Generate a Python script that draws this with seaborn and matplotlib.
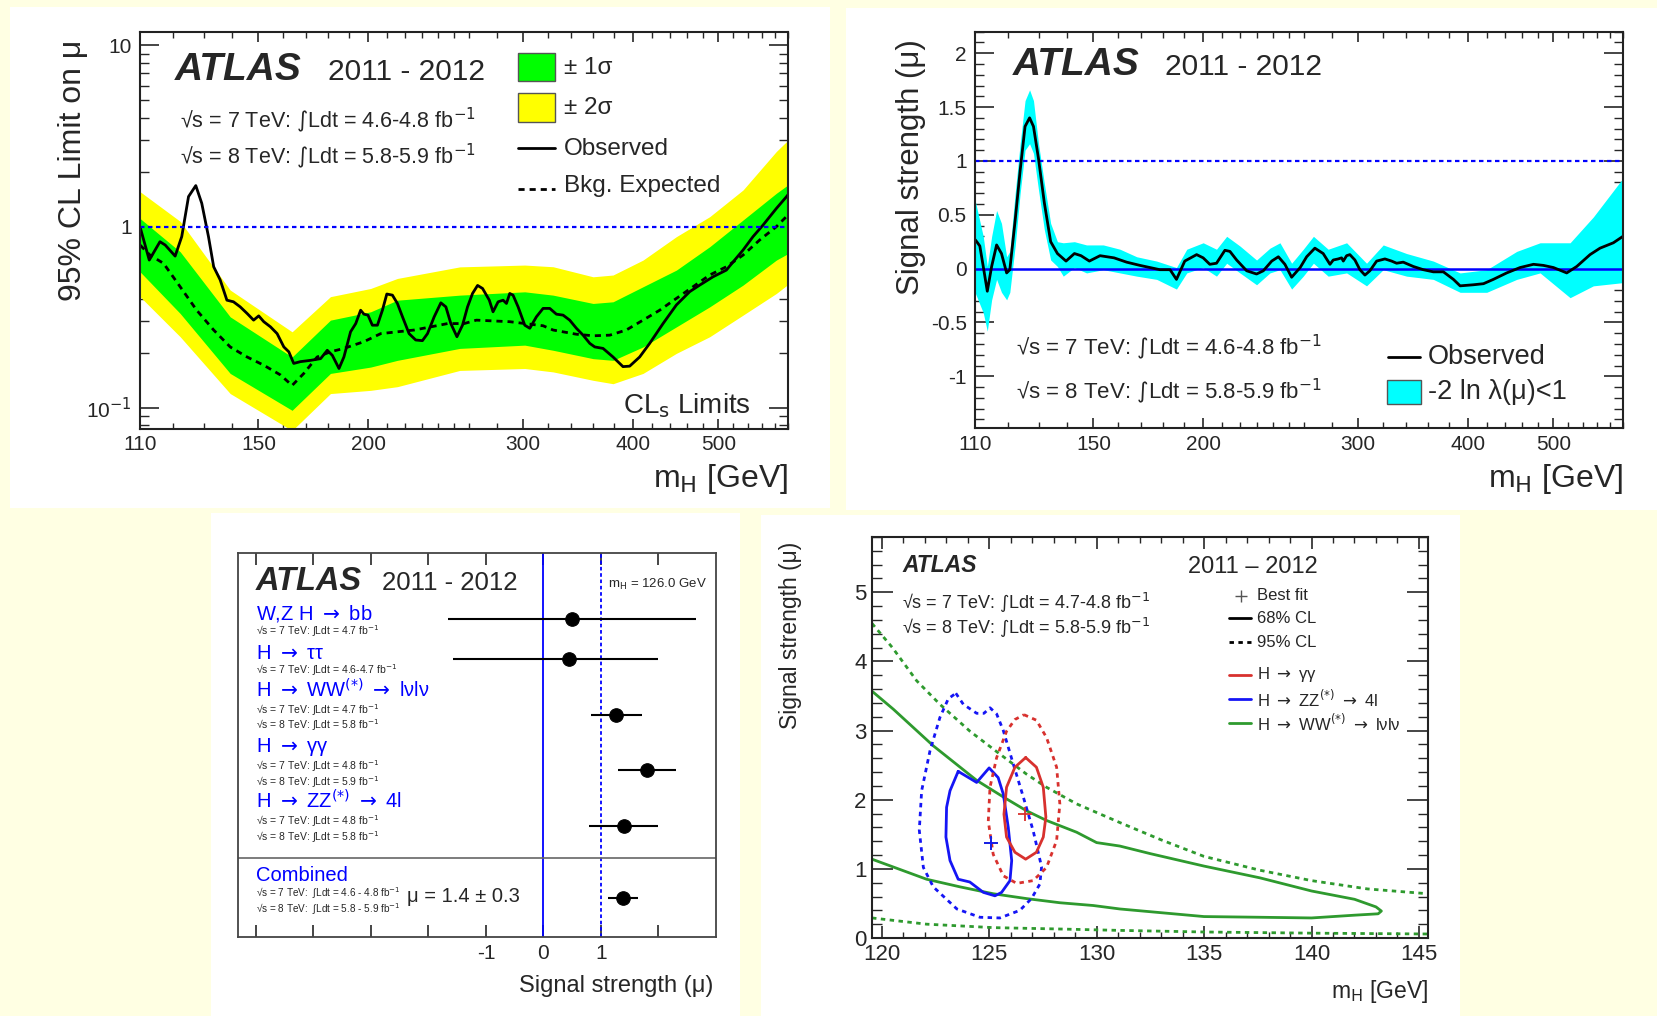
import numpy as np
import matplotlib
matplotlib.use("Agg")
import matplotlib.pyplot as plt
import seaborn as sns
from matplotlib.patches import Rectangle
from matplotlib.lines import Line2D
from matplotlib.ticker import FixedLocator, FixedFormatter, MultipleLocator, NullFormatter

sns.set_style("ticks")
plt.rcParams["font.family"] = ["Liberation Sans", "DejaVu Sans"]
plt.rcParams["mathtext.fontset"] = "custom"
plt.rcParams["mathtext.rm"] = "DejaVu Sans"
plt.rcParams["mathtext.it"] = "DejaVu Sans:italic"
plt.rcParams["mathtext.bf"] = "DejaVu Sans:bold"

ARROW = "$\\rightarrow$"
INT = "$\\int$"

## ---------- top left: CLs limit on mu ----------
obs_mass = [110.0, 112.7, 115.9, 117.5, 120.6, 122.7, 124.9, 127.3, 129.3, 131.6, 133.4, 135.7,
            138.1, 140.5, 143.0, 145.6, 148.1, 150.1, 152.1, 154.8, 157.5, 160.3, 162.4, 164.5,
            167.4, 171.9, 176.5, 179.6, 182.0, 185.2, 187.6, 190.9, 193.5, 196.0, 197.7, 199.8,
            202.1, 204.8, 207.5, 209.9, 213.0, 215.8, 218.7, 222.5, 226.4, 230.4, 233.5, 237.6,
            241.8, 245.0, 248.2, 252.2, 255.9, 259.3, 262.7, 266.2, 269.7, 274.5, 277.2, 280.9,
            284.6, 287.1, 289.6, 292.1, 296.0, 301.2, 305.2, 310.5, 316.0, 321.6, 327.2, 333.0,
            338.8, 344.8, 350.9, 357.1, 361.8, 369.7, 379.5, 389.5, 396.4, 406.9, 417.7, 432.6,
            448.0, 463.9, 476.2, 493.1, 510.6, 521.9, 533.4, 547.5, 562.0, 582.0, 597.4, 600.0]
obs_limit = [1.00, 0.654, 0.826, 0.792, 0.688, 0.881, 1.465, 1.685, 1.346, 0.881, 0.601, 0.508,
             0.393, 0.385, 0.361, 0.332, 0.305, 0.322, 0.299, 0.280, 0.257, 0.217, 0.204, 0.176,
             0.180, 0.183, 0.187, 0.208, 0.195, 0.165, 0.191, 0.263, 0.292, 0.346, 0.329, 0.325,
             0.286, 0.286, 0.346, 0.425, 0.419, 0.377, 0.318, 0.257, 0.237, 0.235, 0.257, 0.318,
             0.380, 0.361, 0.292, 0.247, 0.286, 0.361, 0.428, 0.474, 0.456, 0.393, 0.339, 0.385,
             0.393, 0.377, 0.428, 0.419, 0.361, 0.286, 0.275, 0.318, 0.354, 0.354, 0.329, 0.325,
             0.305, 0.275, 0.252, 0.227, 0.217, 0.213, 0.191, 0.169, 0.170, 0.191, 0.227, 0.292,
             0.370, 0.438, 0.476, 0.529, 0.576, 0.655, 0.743, 0.881, 1.02, 1.26, 1.46, 1.50]

exp_mass = [110.0, 112.9, 117.0, 122.2, 127.6, 133.4, 139.3, 145.6, 152.1, 158.9, 163.8, 168.9,
            174.9, 181.1, 187.6, 197.7, 206.6, 215.8, 225.5, 235.5, 246.1, 257.0, 265.4, 289.6,
            316.0, 324.4, 344.8, 360.2, 376.3, 392.9, 410.5, 428.8, 448.0, 467.9, 488.8, 510.6,
            533.4, 557.1, 582.0, 600.0]
exp_limit = [0.792, 0.697, 0.627, 0.466, 0.346, 0.269, 0.217, 0.191, 0.172, 0.152, 0.133, 0.155,
             0.191, 0.204, 0.213, 0.232, 0.257, 0.263, 0.269, 0.280, 0.292, 0.292, 0.305, 0.299,
             0.284, 0.269, 0.255, 0.250, 0.252, 0.269, 0.305, 0.346, 0.402, 0.466, 0.541, 0.601,
             0.697, 0.844, 1.0, 1.16]

band_mass = [110.0, 122.2, 139.3, 163.8, 181.1, 201.2, 215.8, 254.1, 301.2, 324.4, 360.2, 379.5,
             410.5, 448.0, 488.8, 533.4, 582.0, 600.0]
band_p2s = [1.56, 1.07, 0.447, 0.263, 0.411, 0.456, 0.518, 0.600, 0.614, 0.601, 0.529, 0.541,
            0.654, 0.881, 1.135, 1.594, 2.60, 3.0]
band_p1s = [1.11, 0.727, 0.318, 0.191, 0.305, 0.339, 0.393, 0.419, 0.437, 0.419, 0.377, 0.385,
            0.466, 0.576, 0.775, 1.088, 1.528, 1.70]
band_m1s = [0.564, 0.332, 0.155, 0.097, 0.155, 0.168, 0.183, 0.213, 0.222, 0.208, 0.187, 0.183,
            0.217, 0.280, 0.361, 0.476, 0.654, 0.71]
band_m2s = [0.411, 0.247, 0.120, 0.075, 0.120, 0.125, 0.131, 0.161, 0.165, 0.158, 0.142, 0.136,
            0.155, 0.200, 0.247, 0.325, 0.428, 0.48]

## ---------- top right: best-fit signal strength ----------
mu_mass = [110.0, 110.5, 111.4, 112.4, 113.6, 114.9, 116.4, 117.9, 119.5, 120.5, 122.2, 123.8,
           125.4, 126.9, 128.2, 129.9, 131.9, 134.1, 136.5, 139.6, 142.7, 145.2, 148.4, 152.6,
           158.3, 163.6, 169.4, 178.5, 183.3, 186.4, 190.5, 196.5, 199.9, 203.4, 207.0, 211.6,
           214.4, 218.2, 224.0, 229.9, 234.0, 239.2, 243.4, 247.6, 252.0, 257.7, 262.1, 267.8,
           273.7, 278.6, 281.0, 284.7, 287.2, 288.5, 291.0, 293.5, 297.4, 301.3, 305.3, 309.3,
           314.8, 321.7, 327.4, 331.7, 337.5, 346.5, 355.7, 365.2, 374.9, 384.9, 391.7, 405.6,
           416.4, 427.3, 442.5, 458.3, 474.6, 487.1, 500.1, 517.8, 531.6, 550.4, 565.0, 585.1,
           600.0]
mu_obs = [0.27, 0.25, 0.21, 0.02, -0.21, 0.02, 0.22, 0.14, -0.04, -0.01, 0.45, 0.91,
          1.32, 1.40, 1.32, 1.02, 0.61, 0.25, 0.14, 0.07, 0.14, 0.12, 0.07, 0.12,
          0.10, 0.06, 0.03, -0.01, -0.01, -0.10, 0.07, 0.13, 0.10, 0.04, 0.05, 0.17,
          0.16, 0.08, -0.02, -0.05, -0.02, 0.07, 0.11, 0.04, -0.08, 0.01, 0.11, 0.19,
          0.14, 0.04, 0.08, 0.09, 0.10, 0.07, 0.12, 0.13, 0.08, -0.01, -0.06, -0.02,
          0.07, 0.09, 0.07, 0.05, 0.06, 0.02, -0.01, -0.03, -0.03, -0.10, -0.16, -0.15,
          -0.14, -0.10, -0.04, 0.01, 0.04, 0.03, 0.01, -0.04, 0.02, 0.13, 0.19, 0.24,
          0.30]
mu_band_mass = [110.0, 112.4, 113.6, 114.9, 116.4, 117.9, 119.5, 120.5, 122.2, 123.8, 125.4, 126.9,
                128.2, 129.9, 131.9, 134.1, 136.5, 138.6, 142.7, 147.3, 153.9, 160.8, 168.0, 177.0,
                186.4, 191.5, 199.9, 207.0, 212.6, 220.1, 229.9, 238.1, 244.4, 252.0, 259.8, 266.8,
                277.3, 291.0, 306.6, 320.3, 340.5, 365.2, 391.7, 420.0, 454.3, 482.9, 522.4, 555.2,
                600.0]
mu_band_lo = [-0.22, -0.41, -0.58, -0.29, -0.10, -0.22, -0.29, -0.22, 0.21, 0.70, 1.10, 1.16,
              1.07, 0.73, 0.36, 0.08, 0.02, -0.07, 0.01, -0.04, -0.01, -0.04, -0.07, -0.10,
              -0.19, -0.04, 0.01, -0.07, 0.05, -0.04, -0.15, -0.04, -0.01, -0.19, -0.07, 0.05,
              -0.07, -0.04, -0.16, -0.01, -0.07, -0.10, -0.22, -0.22, -0.10, -0.04, -0.27, -0.16,
              -0.13]
mu_band_hi = [0.64, 0.30, 0.02, 0.30, 0.54, 0.42, 0.11, 0.16, 0.70, 1.16, 1.56, 1.66,
              1.56, 1.16, 0.79, 0.42, 0.25, 0.24, 0.25, 0.22, 0.22, 0.18, 0.11, 0.07,
              0.01, 0.18, 0.24, 0.18, 0.30, 0.21, 0.08, 0.19, 0.24, 0.05, 0.18, 0.30,
              0.18, 0.24, 0.05, 0.22, 0.14, 0.07, -0.04, -0.01, 0.16, 0.24, 0.24, 0.48,
              0.84]

## ---------- bottom left: per-channel signal strength at 126 GeV ----------
channels = ["W,Z H " + ARROW + " bb", "H " + ARROW + " ττ",
            "H " + ARROW + " WW$^{(*)}$ " + ARROW + " lνlν", "H " + ARROW + " γγ",
            "H " + ARROW + " ZZ$^{(*)}$ " + ARROW + " 4l"]
channel_lumi = [["√s = 7 TeV: ∫Ldt = 4.7 fb$^{-1}$"],
                ["√s = 7 TeV: ∫Ldt = 4.6-4.7 fb$^{-1}$"],
                ["√s = 7 TeV: ∫Ldt = 4.7 fb$^{-1}$", "√s = 8 TeV: ∫Ldt = 5.8 fb$^{-1}$"],
                ["√s = 7 TeV: ∫Ldt = 4.8 fb$^{-1}$", "√s = 8 TeV: ∫Ldt = 5.9 fb$^{-1}$"],
                ["√s = 7 TeV: ∫Ldt = 4.8 fb$^{-1}$", "√s = 8 TeV: ∫Ldt = 5.8 fb$^{-1}$"]]
chan_mu = [0.49, 0.44, 1.26, 1.80, 1.40]
chan_lo = [-1.66, -1.57, 0.82, 1.30, 0.80]
chan_hi = [2.65, 1.99, 1.72, 2.30, 2.00]
comb_mu, comb_lo, comb_hi = 1.38, 1.12, 1.65
comb_lumi = ["√s = 7 TeV:  ∫Ldt = 4.6 - 4.8 fb$^{-1}$",
             "√s = 8 TeV:  ∫Ldt = 5.8 - 5.9 fb$^{-1}$"]

## ---------- bottom right: mu vs mH likelihood contours ----------
ww68_m = [119.55, 120.54, 122.4, 124.42, 125.66, 126.74, 127.67, 129.07, 130.0, 131.08, 132.5, 135.0,
          137.6, 140.0, 142.0, 143.0, 143.25, 143.1, 142.0, 140.0, 137.6, 135.0, 132.5, 131.08,
          129.84, 128.29, 126.74, 125.19, 123.64, 122.09, 119.55]
ww68_mu = [3.57, 3.31, 2.78, 2.28, 2.04, 1.84, 1.70, 1.53, 1.38, 1.33, 1.22, 1.04,
           0.87, 0.68, 0.56, 0.45, 0.39, 0.35, 0.33, 0.29, 0.30, 0.31, 0.38, 0.42,
           0.47, 0.51, 0.57, 0.64, 0.74, 0.85, 1.14]
ww95_up_m = [119.55, 120.5, 121.63, 122.71, 124.11, 125.5, 126.74, 127.67, 129.07, 131.08, 133.0,
             135.0, 137.6, 140.0, 142.6, 145.42]
ww95_up_mu = [4.55, 4.20, 3.72, 3.38, 2.99, 2.66, 2.37, 2.18, 1.94, 1.67, 1.42,
              1.18, 0.98, 0.83, 0.71, 0.64]
ww95_lo_m = [119.55, 122.09, 125.19, 128.29, 131.08, 135.0, 140.0, 145.42]
ww95_lo_mu = [0.29, 0.20, 0.15, 0.13, 0.11, 0.087, 0.07, 0.058]

zz68_m = [123.56, 124.42, 125.0, 125.42, 125.66, 125.89, 126.05, 125.97, 125.58, 125.27, 124.73,
          124.1, 123.56, 123.18, 122.99, 123.02, 123.18, 123.56]
zz68_mu = [2.41, 2.25, 2.46, 2.32, 2.08, 1.60, 1.12, 0.83, 0.66, 0.61, 0.66,
           0.81, 0.85, 1.12, 1.46, 1.89, 2.13, 2.41]
zz95_m = [123.45, 123.8, 124.42, 124.76, 125.04, 125.35, 125.66, 126.12, 126.59, 127.05, 127.44,
          127.36, 126.97, 126.43, 125.5, 124.57, 123.5, 122.4, 121.94, 121.75, 121.86, 122.25,
          122.71, 123.1, 123.45]
zz95_mu = [3.54, 3.38, 3.25, 3.25, 3.33, 3.24, 3.00, 2.52, 2.04, 1.55, 1.03,
           0.78, 0.57, 0.40, 0.29, 0.30, 0.42, 0.74, 1.02, 1.56, 2.13, 2.71,
           3.19, 3.46, 3.54]

gg68_m = [126.7, 127.2, 127.52, 127.64, 127.52, 127.2, 126.7, 126.2, 125.81, 125.69, 125.81, 126.2, 126.7]
gg68_mu = [2.61, 2.47, 2.18, 1.75, 1.46, 1.24, 1.14, 1.24, 1.46, 1.79, 2.18, 2.47, 2.61]
gg95_m = [126.62, 127.2, 127.67, 128.14, 128.29, 128.14, 127.67, 127.05, 126.28, 125.66, 125.19,
          124.96, 125.04, 125.35, 125.81, 126.2, 126.62]
gg95_mu = [3.23, 3.15, 2.90, 2.47, 1.94, 1.41, 1.02, 0.83, 0.79, 0.90, 1.21,
           1.69, 2.18, 2.61, 2.99, 3.16, 3.23]

best_fit_m = {"gg": 126.67, "zz": 125.08, "ww": 125.1}
best_fit_mu = {"gg": 1.80, "zz": 1.37, "ww": 1.37}

## ---------- figure ----------
W, H = 1658, 1016
fig = plt.figure(figsize=(W / 100, H / 100), dpi=100, facecolor="#FFFFE3")


def panel(x0, y0, x1, y1):
    fig.patches.append(Rectangle((x0 / W, 1 - y1 / H), (x1 - x0) / W, (y1 - y0) / H,
                                 transform=fig.transFigure, facecolor="white",
                                 edgecolor="none", zorder=-10))


def axes_px(x0, y0, x1, y1):
    return fig.add_axes([x0 / W, 1 - y1 / H, (x1 - x0) / W, (y1 - y0) / H])


def root_ticks(ax, xl=(7, 4), yl=(13.5, 6.5), size=15, xpad=5, ypad=6):
    ax.tick_params(axis="x", which="major", direction="in", top=True, bottom=True,
                   length=xl[0], width=1.2, labelsize=size, pad=xpad)
    ax.tick_params(axis="x", which="minor", direction="in", top=True, bottom=True,
                   length=xl[1], width=1.0)
    ax.tick_params(axis="y", which="major", direction="in", left=True, right=True,
                   length=yl[0], width=1.2, labelsize=size, pad=ypad)
    ax.tick_params(axis="y", which="minor", direction="in", left=True, right=True,
                   length=yl[1], width=1.0)
    for s in ax.spines.values():
        s.set_linewidth(1.5)
        s.set_color("#222222")
        s.set_visible(True)


def mass_axis(ax):
    ax.set_xscale("log")
    ax.set_xlim(110, 600)
    ax.xaxis.set_major_locator(FixedLocator([110, 150, 200, 300, 400, 500]))
    ax.xaxis.set_major_formatter(FixedFormatter(["110", "150", "200", "300", "400", "500"]))
    ax.xaxis.set_minor_locator(FixedLocator([120, 130, 140, 160, 170, 180, 190, 210, 220, 230, 240,
                                             250, 260, 280, 320, 340, 360, 380, 420, 440, 460,
                                             480, 520, 540, 560, 580, 600]))
    ax.xaxis.set_minor_formatter(NullFormatter())


panel(10, 7, 830, 508)
panel(846, 8, 1658, 510)
panel(211, 513, 740, 1016)
panel(761, 515, 1460, 1016)

# ---- top left ----
ax = axes_px(140, 31.7, 788, 428.5)
ax.set_yscale("log")
mass_axis(ax)
ax.set_ylim(0.077, 11.9)
ax.fill_between(band_mass, band_m2s, band_p2s, color="#FFFF00", lw=0)
ax.fill_between(band_mass, band_m1s, band_p1s, color="#00FF00", lw=0)
sns.lineplot(x=exp_mass, y=exp_limit, ax=ax, color="black", lw=2, linestyle=(0, (2.2, 1.8)))
sns.lineplot(x=obs_mass, y=obs_limit, ax=ax, color="black", lw=2)
ax.axhline(1, color="#0000FF", lw=1.6, ls=(0, (2, 1.6)))
ax.yaxis.set_major_locator(FixedLocator([0.1, 1, 10]))
ax.yaxis.set_major_formatter(FixedFormatter(["10$^{-1}$", "1", "10"]))
ax.yaxis.set_minor_locator(FixedLocator([0.08, 0.09, 0.2, 0.3, 0.4, 0.5, 0.6, 0.7, 0.8, 0.9,
                                         2, 3, 4, 5, 6, 7, 8, 9]))
ax.yaxis.set_minor_formatter(NullFormatter())
root_ticks(ax)
ax.set_xlabel("")
ax.set_ylabel("")
ax.text(-0.104, 0.979, "95% CL Limit on μ", transform=ax.transAxes, rotation=90,
        ha="center", va="top", fontsize=23)
ax.text(1.0, -0.147, "m$_\\mathrm{H}$ [GeV]", transform=ax.transAxes, ha="right",
        va="baseline", fontsize=23)
ax.text(0.054, 0.878, "ATLAS", transform=ax.transAxes, fontsize=28, fontweight="bold",
        fontstyle="italic", va="baseline")
ax.text(0.29, 0.878, "2011 - 2012", transform=ax.transAxes, fontsize=21.5, va="baseline")
ax.text(0.062, 0.758, "√s = 7 TeV: " + INT + "Ldt = 4.6-4.8 fb$^{-1}$", transform=ax.transAxes,
        fontsize=15.5, va="baseline")
ax.text(0.062, 0.667, "√s = 8 TeV: " + INT + "Ldt = 5.8-5.9 fb$^{-1}$", transform=ax.transAxes,
        fontsize=15.5, va="baseline")
ax.add_patch(Rectangle((0.583, 0.876), 0.057, 0.071, transform=ax.transAxes,
                       facecolor="#00FF00", edgecolor="#555555", lw=1))
ax.add_patch(Rectangle((0.583, 0.773), 0.057, 0.072, transform=ax.transAxes,
                       facecolor="#FFFF00", edgecolor="#555555", lw=1))
ax.add_line(Line2D([0.583, 0.640], [0.706, 0.706], transform=ax.transAxes, color="black", lw=2))
ax.add_line(Line2D([0.583, 0.640], [0.604, 0.604], transform=ax.transAxes, color="black", lw=2,
                   ls=(0, (2.2, 1.8))))
for ty, tx in zip([0.908, 0.807, 0.704, 0.612], ["± 1σ", "± 2σ", "Observed", "Bkg. Expected"]):
    ax.text(0.654, ty, tx, transform=ax.transAxes, fontsize=17.5, va="center")
ax.text(0.942, 0.038, "CL$_\\mathrm{s}$ Limits", transform=ax.transAxes, fontsize=20,
        ha="right", va="baseline")

# ---- top right ----
ax = axes_px(975, 31.7, 1623, 428)
mass_axis(ax)
ax.set_ylim(-1.48, 2.2)
ax.fill_between(mu_band_mass, mu_band_lo, mu_band_hi, color="#00FFFF", lw=0)
ax.axhline(0, color="#0000FF", lw=1.8)
ax.axhline(1, color="#0000FF", lw=1.6, ls=(0, (2, 1.6)))
sns.lineplot(x=mu_mass, y=mu_obs, ax=ax, color="black", lw=2)
ax.yaxis.set_major_locator(FixedLocator([-1, -0.5, 0, 0.5, 1, 1.5, 2]))
ax.yaxis.set_major_formatter(FixedFormatter(["-1", "-0.5", "0", "0.5", "1", "1.5", "2"]))
ax.yaxis.set_minor_locator(MultipleLocator(0.1))
root_ticks(ax)
ax.set_xlabel("")
ax.set_ylabel("")
ax.text(-0.098, 0.982, "Signal strength (μ)", transform=ax.transAxes, rotation=90,
        ha="center", va="top", fontsize=22.5)
ax.text(1.0, -0.149, "m$_\\mathrm{H}$ [GeV]", transform=ax.transAxes, ha="right",
        va="baseline", fontsize=23)
ax.text(0.058, 0.891, "ATLAS", transform=ax.transAxes, fontsize=28, fontweight="bold",
        fontstyle="italic", va="baseline")
ax.text(0.293, 0.891, "2011 - 2012", transform=ax.transAxes, fontsize=21.5, va="baseline")
ax.text(0.063, 0.184, "√s = 7 TeV: " + INT + "Ldt = 4.6-4.8 fb$^{-1}$", transform=ax.transAxes,
        fontsize=16, va="baseline")
ax.text(0.063, 0.075, "√s = 8 TeV: " + INT + "Ldt = 5.8-5.9 fb$^{-1}$", transform=ax.transAxes,
        fontsize=16, va="baseline")
ax.add_line(Line2D([0.638, 0.687], [0.180, 0.180], transform=ax.transAxes, color="black", lw=2))
ax.add_patch(Rectangle((0.636, 0.061), 0.052, 0.060, transform=ax.transAxes,
                       facecolor="#00FFFF", edgecolor="#555555", lw=1))
ax.text(0.699, 0.180, "Observed", transform=ax.transAxes, fontsize=19.5, va="center")
ax.text(0.699, 0.092, "-2 ln λ(μ)<1", transform=ax.transAxes, fontsize=19.5, va="center")

# ---- bottom left ----
ax = axes_px(238, 553, 716, 937)
ax.set_xlim(-5.31, 3.0)
ax.set_ylim(0, 11.5)
row_y = [9.52, 8.32, 6.66, 4.99, 3.33]
label_y = [9.50, 8.32, 7.18, 5.55, 3.84]
lumi_y = [[9.05], [7.88], [6.68, 6.22], [4.99, 4.53], [3.35, 2.88]]
ax.axvline(0, color="#0000FF", lw=1.3)
ax.axvline(1, color="#0000FF", lw=1.3, ls=(0, (2, 1.5)))
ax.axhline(2.38, color="#666666", lw=1.2)
ax.hlines(row_y, chan_lo, chan_hi, color="black", lw=1.5)
ax.hlines([1.18], [comb_lo], [comb_hi], color="black", lw=1.5)
sns.scatterplot(x=chan_mu + [comb_mu], y=row_y + [1.18], ax=ax, color="black",
                edgecolor="black", s=95, zorder=5, legend=False)
for name, ly, lums, lys in zip(channels, label_y, channel_lumi, lumi_y):
    ax.text(-5.0, ly, name, color="#0000FF", fontsize=14.5, va="baseline")
    for t, y in zip(lums, lys):
        ax.text(-5.0, y, t, fontsize=7.5, va="baseline")
ax.text(-5.0, 1.67, "Combined", color="#0000FF", fontsize=14.5, va="baseline")
for t, y in zip(comb_lumi, [1.20, 0.73]):
    ax.text(-5.0, y, t, fontsize=7.2, va="baseline")
ax.text(-2.37, 1.05, "μ = 1.4 ± 0.3", fontsize=14.5, va="baseline")
ax.text(-5.0, 10.4, "ATLAS", fontsize=23.5, fontweight="bold", fontstyle="italic", va="baseline")
ax.text(-2.81, 10.4, "2011 - 2012", fontsize=18.5, va="baseline")
ax.text(1.13, 10.45, "m$_\\mathrm{H}$ = 126.0 GeV", fontsize=9.5, va="baseline")
ax.xaxis.set_major_locator(FixedLocator(list(range(-5, 3))))
ax.xaxis.set_major_formatter(FixedFormatter(["", "", "", "", "-1", "0", "1", ""]))
ax.tick_params(axis="x", which="major", direction="in", top=True, bottom=True, length=8.5,
               width=1.2, labelsize=15, pad=5)
ax.tick_params(axis="y", left=False, right=False, labelleft=False)
for s in ax.spines.values():
    s.set_linewidth(1.3)
    s.set_color("#444444")
ax.set_xlabel("")
ax.set_ylabel("")
ax.text(0.995, -0.142, "Signal strength (μ)", transform=ax.transAxes, ha="right",
        va="baseline", fontsize=17)

# ---- bottom right ----
ax = axes_px(872, 537, 1428, 938)
ax.set_xlim(119.55, 145.42)
ax.set_ylim(0, 5.8)
c_red, c_blue, c_green = "#D8312E", "#1515F5", "#2E9A2E"
dots = (0, (1.6, 1.6))
sns.lineplot(x=ww95_up_m, y=ww95_up_mu, ax=ax, sort=False, estimator=None, color=c_green, lw=2, linestyle=dots)
sns.lineplot(x=ww95_lo_m, y=ww95_lo_mu, ax=ax, sort=False, estimator=None, color=c_green, lw=2, linestyle=dots)
sns.lineplot(x=ww68_m, y=ww68_mu, ax=ax, sort=False, estimator=None, color=c_green, lw=2)
sns.lineplot(x=zz95_m, y=zz95_mu, ax=ax, sort=False, estimator=None, color=c_blue, lw=2, linestyle=dots)
sns.lineplot(x=zz68_m, y=zz68_mu, ax=ax, sort=False, estimator=None, color=c_blue, lw=2)
sns.lineplot(x=gg95_m, y=gg95_mu, ax=ax, sort=False, estimator=None, color=c_red, lw=2, linestyle=dots)
sns.lineplot(x=gg68_m, y=gg68_mu, ax=ax, sort=False, estimator=None, color=c_red, lw=2)
for key, col in [("ww", c_green), ("zz", c_blue), ("gg", c_red)]:
    ax.plot(best_fit_m[key], best_fit_mu[key], marker="+", ms=10, mew=1.3, color=col)
ax.xaxis.set_major_locator(MultipleLocator(5))
ax.xaxis.set_minor_locator(MultipleLocator(1))
ax.yaxis.set_major_locator(MultipleLocator(1))
ax.yaxis.set_minor_locator(MultipleLocator(0.2))
root_ticks(ax, xl=(8.5, 4.5), yl=(15, 7.5), size=16, xpad=4, ypad=4)
ax.set_xlabel("")
ax.set_ylabel("")
ax.text(-0.146, 0.989, "Signal strength (μ)", transform=ax.transAxes, rotation=90,
        ha="center", va="top", fontsize=16.5)
ax.text(1.0, -0.15, "m$_\\mathrm{H}$ [GeV]", transform=ax.transAxes, ha="right",
        va="baseline", fontsize=16.5)
ax.text(120.95, 5.29, "ATLAS", fontsize=16.5, fontweight="bold", fontstyle="italic", va="baseline")
ax.text(134.27, 5.28, "2011 – 2012", fontsize=17, va="baseline")
ax.text(120.95, 4.76, "√s = 7 TeV: " + INT + "Ldt = 4.7-4.8 fb$^{-1}$", fontsize=13, va="baseline")
ax.text(120.95, 4.40, "√s = 8 TeV: " + INT + "Ldt = 5.8-5.9 fb$^{-1}$", fontsize=13, va="baseline")
ax.plot(136.7, 4.95, marker="+", ms=8, mew=1.0, color="#555555")
ax.text(137.45, 4.95, "Best fit", fontsize=12, va="center")
ax.add_line(Line2D([136.15, 137.2], [4.63, 4.63], color="black", lw=2))
ax.text(137.45, 4.62, "68% CL", fontsize=12, va="center")
ax.add_line(Line2D([136.15, 137.2], [4.28, 4.28], color="black", lw=2, ls=dots))
ax.text(137.45, 4.28, "95% CL", fontsize=12, va="center")
for yy, txt, col in [(3.81, "H " + ARROW + " γγ", c_red),
                     (3.45, "H " + ARROW + " ZZ$^{(*)}$ " + ARROW + " 4l", c_blue),
                     (3.11, "H " + ARROW + " WW$^{(*)}$ " + ARROW + " lνlν", c_green)]:
    ax.add_line(Line2D([136.15, 137.2], [yy, yy], color=col, lw=2))
    ax.text(137.45, yy, txt, fontsize=12, va="center")

fig.savefig("out.png", dpi=100, facecolor=fig.get_facecolor())
